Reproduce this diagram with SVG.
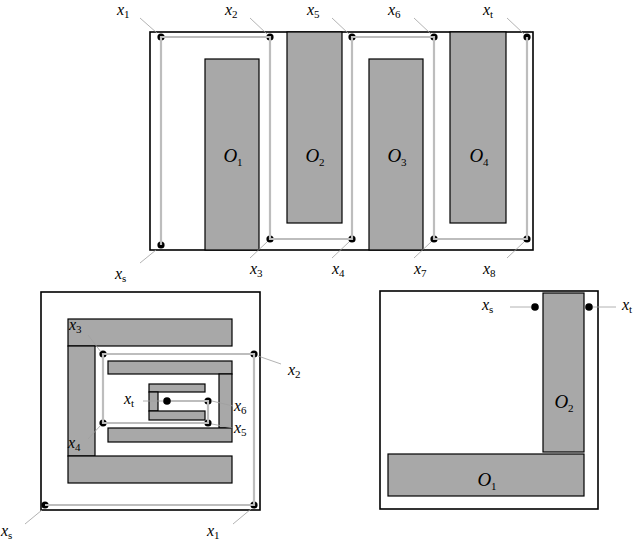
<svg xmlns="http://www.w3.org/2000/svg" width="640" height="543" viewBox="0 0 640 543">
<defs>
<style>
.frame{fill:#fff;stroke:#000;stroke-width:1.6}
.obs{fill:#a8a8a8;stroke:#000;stroke-width:1.2}
.path{fill:none;stroke:#bdbdbd;stroke-width:2.2;stroke-linejoin:miter}
.lead{fill:none;stroke:#a0a0a0;stroke-width:0.8}
.dot{fill:#000}
.lbl{font-family:"Liberation Serif","DejaVu Serif",serif;font-style:italic;font-size:16px;fill:#000}
.sub{font-style:normal;font-size:11px}
.olbl{font-family:"Liberation Serif","DejaVu Serif",serif;font-style:italic;font-size:19px;fill:#000;text-anchor:middle}
</style>
</defs>
<rect width="640" height="543" fill="#fff"/>

<!-- Top diagram -->
<g id="top-frame"><rect class="frame" x="150" y="32" width="383" height="218"/></g>
<g id="top-O1"><rect class="obs" x="205" y="59" width="54" height="191"/><text class="olbl" x="233" y="162">O<tspan class="sub" dy="4">1</tspan></text></g>
<g id="top-O2"><rect class="obs" x="287" y="32" width="55" height="191"/><text class="olbl" x="315" y="162">O<tspan class="sub" dy="4">2</tspan></text></g>
<g id="top-O3"><rect class="obs" x="369" y="59" width="54" height="191"/><text class="olbl" x="397" y="162">O<tspan class="sub" dy="4">3</tspan></text></g>
<g id="top-O4"><rect class="obs" x="450" y="32" width="56" height="191"/><text class="olbl" x="479" y="162">O<tspan class="sub" dy="4">4</tspan></text></g>

<!-- Bottom-left diagram -->
<g id="bl-frame"><rect class="frame" x="41" y="292" width="219" height="218"/></g>
<g id="bl-outer">
<rect class="obs" x="68" y="319" width="164" height="27"/>
<rect class="obs" x="68" y="346" width="27" height="110"/>
<rect class="obs" x="68" y="456" width="164" height="27"/>
</g>
<g id="bl-middle">
<rect class="obs" x="108" y="361" width="124" height="13"/>
<rect class="obs" x="219" y="374" width="13" height="54"/>
<rect class="obs" x="108" y="428" width="124" height="14"/>
</g>
<g id="bl-inner">
<rect class="obs" x="149" y="384" width="56" height="8"/>
<rect class="obs" x="149" y="392" width="9" height="19"/>
<rect class="obs" x="149" y="411" width="56" height="9"/>
</g>

<!-- Bottom-right diagram -->
<g id="br-frame"><rect class="frame" x="380" y="291" width="218" height="218"/></g>
<g id="br-O2"><rect class="obs" x="543" y="293" width="41" height="159"/><text class="olbl" x="564" y="408">O<tspan class="sub" dy="4">2</tspan></text></g>
<g id="br-O1"><rect class="obs" x="388" y="454" width="196" height="42"/><text class="olbl" x="487" y="486">O<tspan class="sub" dy="4">1</tspan></text></g>

<g id="points">
<circle class="dot" cx="161" cy="37" r="3.6"/>
<circle class="dot" cx="270" cy="37" r="3.6"/>
<circle class="dot" cx="352" cy="37" r="3.6"/>
<circle class="dot" cx="434" cy="37" r="3.6"/>
<circle class="dot" cx="527" cy="37" r="3.6"/>
<circle class="dot" cx="161" cy="245" r="3.6"/>
<circle class="dot" cx="270" cy="239" r="3.6"/>
<circle class="dot" cx="352" cy="239" r="3.6"/>
<circle class="dot" cx="434" cy="239" r="3.6"/>
<circle class="dot" cx="527" cy="239" r="3.6"/>
<circle class="dot" cx="45" cy="505" r="3.6"/>
<circle class="dot" cx="254" cy="505" r="3.6"/>
<circle class="dot" cx="254" cy="354" r="3.6"/>
<circle class="dot" cx="103" cy="354" r="3.6"/>
<circle class="dot" cx="103" cy="423" r="3.6"/>
<circle class="dot" cx="208" cy="423" r="3.6"/>
<circle class="dot" cx="208" cy="401" r="3.6"/>
<circle class="dot" cx="535" cy="307" r="3.8"/>
<circle class="dot" cx="589" cy="307" r="3.8"/>
</g>

<g id="connectors">
<path class="path" d="M161,245 V37 H270 V239 H352 V37 H434 V239 H527 V37"/>
<path class="lead" d="M140,18 L157,33 M250,18 L267,34 M332,18 L349,34 M414,18 L431,34 M507,18 L524,34"/>
<path class="lead" d="M140,263 L156,250 M250,258 L267,242 M332,258 L349,242 M414,258 L431,242 M507,258 L524,242"/>
<path class="path" d="M45,505 H254 V354 H103 V423 H208 V401 H167"/>
<path class="lead" d="M88,335 L101,352 M258,356 L281,364 M88,439 L101,425 M212,401 L233,406 M212,424 L233,428 M143,401 L163,401 M25,524 L42,510 M233,524 L251,509"/>
<path class="lead" d="M510,307 L531,307 M593,307 L616,307"/>
</g>
<g id="bl-xt"><circle class="dot" cx="167" cy="401" r="3.8"/></g>

<g id="top-labels">
<text class="lbl" x="117" y="15">x<tspan class="sub" dy="3">1</tspan></text>
<text class="lbl" x="225" y="15">x<tspan class="sub" dy="3">2</tspan></text>
<text class="lbl" x="307" y="15">x<tspan class="sub" dy="3">5</tspan></text>
<text class="lbl" x="388" y="15">x<tspan class="sub" dy="3">6</tspan></text>
<text class="lbl" x="483" y="15">x<tspan class="sub" dy="3">t</tspan></text>
<text class="lbl" x="115" y="279">x<tspan class="sub" dy="3">s</tspan></text>
<text class="lbl" x="250" y="274">x<tspan class="sub" dy="3">3</tspan></text>
<text class="lbl" x="332" y="274">x<tspan class="sub" dy="3">4</tspan></text>
<text class="lbl" x="414" y="274">x<tspan class="sub" dy="3">7</tspan></text>
<text class="lbl" x="483" y="274">x<tspan class="sub" dy="3">8</tspan></text>
</g>
<g id="bl-labels">
<text class="lbl" x="69" y="330">x<tspan class="sub" dy="3">3</tspan></text>
<text class="lbl" x="288" y="375">x<tspan class="sub" dy="3">2</tspan></text>
<text class="lbl" x="68" y="448">x<tspan class="sub" dy="3">4</tspan></text>
<text class="lbl" x="234" y="411">x<tspan class="sub" dy="3">6</tspan></text>
<text class="lbl" x="234" y="433">x<tspan class="sub" dy="3">5</tspan></text>
<text class="lbl" x="124" y="404">x<tspan class="sub" dy="3">t</tspan></text>
<text class="lbl" x="1" y="536">x<tspan class="sub" dy="3">s</tspan></text>
<text class="lbl" x="207" y="536">x<tspan class="sub" dy="3">1</tspan></text>
</g>
<g id="br-labels">
<text class="lbl" x="482" y="310">x<tspan class="sub" dy="3">s</tspan></text>
<text class="lbl" x="622" y="310">x<tspan class="sub" dy="3">t</tspan></text>
</g>
</svg>
